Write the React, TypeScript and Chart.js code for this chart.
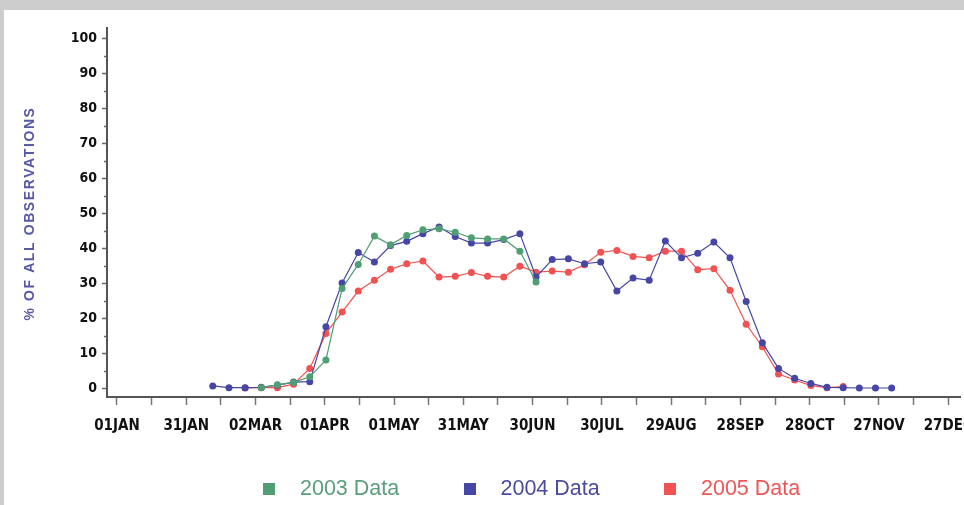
import React, { useEffect, useRef } from "react";
import { Chart, registerables } from "chart.js";

Chart.register(...registerables);

// Week positions (day of year, 0 = 01JAN)
const WEEK_DAYS = [
  41.5, 48.5, 55.5, 62.5, 69.5, 76.5, 83.5, 90.5, 97.5, 104.5,
  111.5, 118.5, 125.5, 132.5, 139.5, 146.5, 153.5, 160.5, 167.5, 174.5,
  181.5, 188.5, 195.5, 202.5, 209.5, 216.5, 223.5, 230.5, 237.5, 244.5,
  251.5, 258.5, 265.5, 272.5, 279.5, 286.5, 293.5, 300.5, 307.5, 314.5,
  321.5, 328.5, 335.5,
];

const DATA_2003 = [
  null, null, null, 0.1, 0.9, 1.6, 3.2, 8.0, 28.4, 35.3,
  43.4, 40.9, 43.6, 45.2, 45.5, 44.5, 42.9, 42.6, 42.6, 39.1,
  30.3, null, null, null, null, null, null, null, null, null,
  null, null, null, null, null, null, null, null, null, null,
  null, null, null,
];

const DATA_2004 = [
  0.6, 0.1, 0.1, 0.2, 0.8, 1.7, 1.8, 17.5, 30.0, 38.7,
  36.0, 40.7, 41.9, 44.1, 46.0, 43.3, 41.4, 41.4, 42.4, 44.1,
  31.7, 36.7, 36.9, 35.5, 36.0, 27.7, 31.4, 30.8, 42.0, 37.2,
  38.5, 41.7, 37.2, 24.7, 12.9, 5.6, 2.8, 1.3, 0.2, 0.1,
  0.0, 0.0, 0.0,
];

const DATA_2005 = [
  null, null, 0.0, 0.1, 0.1, 1.1, 5.6, 15.6, 21.7, 27.7,
  30.8, 33.9, 35.5, 36.3, 31.7, 31.9, 33.0, 31.9, 31.7, 34.8,
  33.1, 33.4, 33.1, 35.2, 38.8, 39.3, 37.6, 37.2, 39.1, 39.1,
  33.8, 34.1, 27.9, 18.2, 11.8, 4.0, 2.3, 0.7, 0.1, 0.4,
  null, null, null,
];

const SERIES_NAMES = ["2003 Data", "2004 Data", "2005 Data"];
const SERIES_COLORS = ["#4f9f72", "#4646a6", "#f25252"];
const LEGEND_TEXT_COLORS = ["#5a9e7a", "#4b4b9f", "#ee5656"];

// X axis ticks (day of year)
const X_LABEL_DAYS = [0, 30, 60, 90, 120, 150, 180, 210, 240, 270, 300, 330, 360];
const X_LABELS = [
  "01JAN", "31JAN", "02MAR", "01APR", "01MAY", "31MAY", "30JUN",
  "30JUL", "29AUG", "28SEP", "28OCT", "27NOV", "27DEC",
];
const X_MINOR_DAYS = [15, 45, 75, 105, 135, 165, 195, 225, 255, 285, 315, 345];

// Y axis ticks
const Y_TICKS = [0, 10, 20, 30, 40, 50, 60, 70, 80, 90, 100];
const Y_MINOR_TICKS = [5, 15, 25, 35, 45, 55, 65, 75, 85, 95];

const Y_TITLE = "% OF ALL OBSERVATIONS";

const TICK_FONT = "'DejaVu Sans Condensed', 'Liberation Sans Narrow', 'Liberation Sans', sans-serif";

export default function App() {
  const canvasRef = useRef<HTMLCanvasElement | null>(null);

  useEffect(() => {
    if (!canvasRef.current) return;
    const allSeries = [DATA_2003, DATA_2004, DATA_2005];
    const datasets = allSeries.map((vals, i) => ({
      label: SERIES_NAMES[i],
      data: WEEK_DAYS.map((d, k) => ({ x: d, y: vals[k] })),
      borderColor: SERIES_COLORS[i],
      backgroundColor: SERIES_COLORS[i],
      pointBackgroundColor: SERIES_COLORS[i],
      pointBorderColor: SERIES_COLORS[i],
      borderWidth: 1.2,
      pointRadius: 3.5,
      pointBorderWidth: 0,
      tension: 0,
      spanGaps: false,
    }));

    const extras = {
      id: "extras",
      afterDraw(chart: any) {
        const ctx = chart.ctx;
        const ys = chart.scales.y;
        const area = chart.chartArea;
        ctx.save();
        // minor y ticks
        ctx.strokeStyle = "#666";
        ctx.lineWidth = 1.5;
        Y_MINOR_TICKS.forEach((v) => {
          const py = Math.round(ys.getPixelForValue(v)) + 0.5;
          ctx.beginPath();
          ctx.moveTo(area.left - 3, py);
          ctx.lineTo(area.left, py);
          ctx.stroke();
        });
        // y title
        ctx.translate(26, (area.top + area.bottom) / 2 + 1);
        ctx.rotate(-Math.PI / 2);
        ctx.font = "bold 14px 'Liberation Sans', Arial, sans-serif";
        (ctx as any).letterSpacing = "1.6px";
        ctx.fillStyle = "#5858aa";
        ctx.textAlign = "center";
        ctx.textBaseline = "middle";
        ctx.fillText(Y_TITLE, 0, 0);
        ctx.restore();
      },
    };

    const chart = new Chart(canvasRef.current, {
      type: "line",
      data: { datasets },
      options: {
        animation: false,
        responsive: false,
        devicePixelRatio: 1,
        layout: { padding: { left: 0, right: 0, top: 18, bottom: 0 } },
        plugins: {
          legend: { display: false },
          tooltip: { enabled: false },
        },
        scales: {
          x: {
            type: "linear",
            min: -4.31,
            max: 365.1,
            afterBuildTicks: (scale: any) => {
              const all = [...X_LABEL_DAYS, ...X_MINOR_DAYS].sort((a, b) => a - b);
              scale.ticks = all.map((v) => ({ value: v }));
            },
            afterFit: (scale: any) => {
              scale.height = 108;
              scale.paddingLeft = 0;
              scale.paddingRight = 0;
            },
            grid: {
              display: true,
              drawOnChartArea: false,
              drawTicks: true,
              tickLength: 8,
              tickColor: "#777",
              tickWidth: 1.5,
            },
            border: { display: true, color: "#555", width: 2 },
            ticks: {
              autoSkip: false,
              maxRotation: 0,
              minRotation: 0,
              padding: 12,
              color: "#111",
              font: { family: TICK_FONT, size: 15, weight: "bold" },
              callback: (value: any) => {
                const idx = X_LABEL_DAYS.indexOf(Number(value));
                return idx >= 0 ? X_LABELS[idx] : "";
              },
            },
          },
          y: {
            type: "linear",
            min: -2.57,
            max: 102.86,
            afterBuildTicks: (scale: any) => {
              scale.ticks = Y_TICKS.map((v) => ({ value: v }));
            },
            afterFit: (scale: any) => {
              scale.width = 103;
            },
            grid: {
              display: true,
              drawOnChartArea: false,
              drawTicks: true,
              tickLength: 5,
              tickColor: "#666",
              tickWidth: 1.5,
            },
            border: { display: true, color: "#555", width: 2 },
            ticks: {
              padding: 5,
              color: "#111",
              font: { family: TICK_FONT, size: 14, weight: "bold" },
              callback: (value: any) => String(value),
            },
          },
        },
      },
      plugins: [extras],
    } as any);

    return () => chart.destroy();
  }, []);

  const LEGEND_LEFTS = [259, 459.5, 660];

  return (
    <div
      style={{
        position: "absolute",
        left: 0,
        top: 0,
        width: 964,
        height: 505,
        background: "#cccccc",
        overflow: "hidden",
      }}
    >
      <div
        style={{
          position: "absolute",
          left: 4,
          top: 10,
          width: 960,
          height: 495,
          background: "#ffffff",
        }}
      >
        <canvas ref={canvasRef} width={960} height={495} style={{ display: "block" }} />
        {SERIES_NAMES.map((name, i) => (
          <div
            key={name}
            style={{
              position: "absolute",
              left: LEGEND_LEFTS[i],
              top: 468,
              height: 22,
              display: "flex",
              alignItems: "center",
              fontFamily: "'Liberation Sans', Arial, sans-serif",
              fontSize: 21.5,
              lineHeight: "21.5px",
              color: LEGEND_TEXT_COLORS[i],
              whiteSpace: "nowrap",
            }}
          >
            <span
              style={{
                display: "inline-block",
                width: 12,
                height: 12,
                background: SERIES_COLORS[i],
                marginRight: 25,
              }}
            />
            <span>{name}</span>
          </div>
        ))}
      </div>
    </div>
  );
}
